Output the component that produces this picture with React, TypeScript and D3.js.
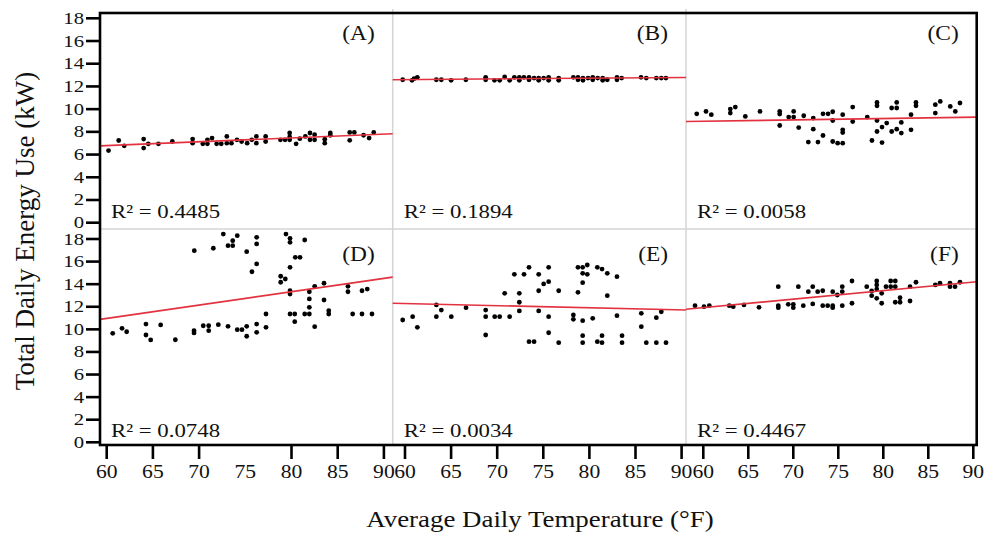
import * as d3 from 'd3'

// six panels: (A)(B)(C) top row, (D)(E)(F) bottom row
const panelNames = ['(A)', '(B)', '(C)', '(D)', '(E)', '(F)']
const r2Labels = ['R² = 0.4485', 'R² = 0.1894', 'R² = 0.0058', 'R² = 0.0748', 'R² = 0.0034', 'R² = 0.4467']
const xTicks = [60, 65, 70, 75, 80, 85, 90]
const yTicks = [0, 2, 4, 6, 8, 10, 12, 14, 16, 18]
// regression line read at 60 °F and 90 °F
const fitAt60 = [6.79, 12.6, 8.93, 10.97, 12.29, 11.92]
const fitAt90 = [7.8, 12.79, 9.29, 14.51, 11.72, 14.19]

// [temperature °F, energy kW]
const panelA: [number, number][] = [
  [60.2, 6.35], [61.3, 7.24], [61.9, 6.77], [64.0, 7.36], [64.0, 6.57], [64.5, 6.95], [65.6, 6.95], [67.1, 7.15],
  [69.3, 7.36], [69.3, 7.0], [70.4, 6.95], [70.9, 6.95], [70.9, 7.3], [71.4, 7.45], [71.9, 6.95], [72.4, 6.95],
  [73.0, 7.6], [73.0, 7.0], [73.5, 7.0], [74.1, 7.3], [74.6, 7.15], [75.2, 7.0], [75.7, 7.3], [76.2, 7.6],
  [76.2, 7.0], [77.2, 7.6], [77.2, 7.15], [78.8, 7.3], [79.3, 7.3], [79.8, 7.9], [79.8, 7.55], [79.8, 7.3],
  [80.5, 6.95], [80.9, 7.4], [81.5, 7.6], [82.0, 7.9], [82.0, 7.3], [82.5, 7.3], [82.5, 7.75], [83.6, 7.0],
  [83.6, 7.35], [84.2, 7.9], [84.2, 7.7], [86.3, 7.95], [86.3, 7.25], [86.8, 7.95], [87.8, 7.7], [88.4, 7.45],
  [88.9, 7.95],
]
const panelB: [number, number][] = [
  [59.75, 12.59], [60.76, 12.54], [60.98, 12.68], [61.34, 12.8], [63.4, 12.59], [63.94, 12.59], [65.0, 12.54],
  [66.6, 12.59], [68.75, 12.8], [68.75, 12.59], [69.7, 12.54], [70.27, 12.54], [70.81, 12.83], [71.35, 12.54],
  [71.86, 12.8], [72.4, 12.8], [72.4, 12.54], [72.9, 12.8], [73.45, 12.8], [73.45, 12.59], [74.0, 12.74],
  [74.5, 12.74], [74.5, 12.54], [75.04, 12.74], [75.58, 12.8], [75.58, 12.54], [76.67, 12.74], [76.67, 12.54],
  [78.26, 12.8], [78.76, 12.8], [78.76, 12.59], [79.3, 12.74], [79.3, 12.54], [79.85, 12.74], [80.36, 12.8],
  [80.36, 12.59], [80.9, 12.74], [81.44, 12.74], [81.44, 12.54], [81.94, 12.59], [82.99, 12.8], [82.99, 12.59],
  [83.5, 12.74], [85.6, 12.8], [86.17, 12.74], [87.26, 12.74], [87.8, 12.74], [88.3, 12.74],
]
const panelC: [number, number][] = [
  [59.27, 9.59], [60.3, 9.8], [60.89, 9.51], [63.0, 10.01], [63.0, 9.65], [63.56, 10.18], [64.67, 9.36], [66.3, 9.8],
  [68.49, 9.8], [68.49, 9.57], [68.49, 8.56], [69.49, 9.3], [70.04, 9.3], [70.04, 9.8], [70.6, 8.38], [71.16, 9.42],
  [72.22, 9.21], [72.22, 8.24], [71.67, 7.1], [72.74, 7.1], [73.3, 7.68], [73.3, 9.59], [73.86, 9.59], [74.38, 9.77],
  [74.38, 9.0], [74.38, 7.15], [74.93, 7.0], [75.49, 7.0], [75.49, 8.18], [75.49, 7.94], [75.49, 9.51], [76.6, 10.18],
  [76.6, 8.91], [78.22, 9.3], [78.74, 7.24], [79.3, 10.59], [79.3, 10.3], [79.3, 9.0], [79.3, 8.03], [79.86, 8.42],
  [79.86, 7.06], [80.38, 8.77], [80.93, 10.1], [81.49, 10.59], [81.49, 10.1], [80.93, 8.03], [81.49, 8.24],
  [82.0, 8.83], [82.0, 7.89], [83.08, 9.51], [83.08, 8.18], [83.63, 10.59], [83.63, 10.3], [85.78, 10.39],
  [85.78, 9.65], [86.33, 10.68], [87.44, 10.24], [88.0, 9.8], [88.52, 10.54],
]
const panelD: [number, number][] = [
  [60.65, 9.65], [61.66, 10.09], [62.16, 9.79], [64.25, 10.47], [64.25, 9.5], [64.76, 9.06], [65.84, 10.39],
  [67.43, 9.08], [69.45, 9.88], [69.45, 9.68], [69.48, 16.97], [70.45, 10.32], [71.04, 10.32], [71.04, 9.88],
  [71.54, 17.18], [72.08, 10.41], [72.62, 18.44], [73.13, 17.41], [73.64, 17.41], [73.64, 17.85], [74.13, 18.29],
  [73.13, 10.27], [74.13, 9.97], [74.64, 9.97], [75.15, 10.27], [75.15, 9.39], [75.15, 16.88], [75.72, 15.1],
  [76.23, 15.79], [76.23, 18.15], [76.23, 17.56], [76.23, 10.47], [76.23, 9.74], [77.24, 11.36], [77.24, 10.18],
  [79.4, 18.44], [79.84, 18.06], [79.84, 17.71], [78.83, 14.7], [78.83, 14.17], [79.33, 14.46], [79.84, 15.49],
  [80.41, 16.38], [80.92, 16.38], [81.43, 17.91], [79.84, 13.42], [79.84, 13.13], [79.84, 11.36], [80.35, 11.36],
  [80.35, 10.68], [81.43, 11.36], [81.93, 13.33], [81.93, 12.69], [81.93, 11.95], [81.93, 11.36], [82.51, 13.81],
  [82.51, 10.24], [83.52, 14.08], [83.52, 12.6], [84.03, 11.65], [84.03, 11.36], [86.11, 13.81], [86.11, 13.33],
  [86.62, 11.36], [87.63, 13.42], [87.63, 11.36], [88.2, 13.57], [88.71, 11.36],
]
const panelE: [number, number][] = [
  [59.75, 10.83], [60.83, 11.12], [61.34, 10.18], [63.4, 12.16], [63.4, 11.12], [63.94, 11.71], [65.02, 11.12],
  [66.62, 11.92], [68.75, 11.71], [68.75, 11.12], [68.75, 9.5], [69.73, 11.12], [70.27, 11.12], [70.81, 13.19],
  [71.35, 11.12], [71.86, 14.87], [72.4, 13.19], [72.4, 12.4], [72.4, 11.63], [72.91, 14.87], [73.45, 15.49],
  [73.45, 8.91], [74.0, 8.91], [74.5, 14.87], [74.5, 13.42], [74.5, 11.63], [75.04, 14.02], [75.58, 15.49],
  [75.58, 14.22], [75.58, 11.12], [75.58, 9.7], [76.67, 13.42], [76.67, 8.82], [78.26, 11.27], [78.26, 10.89],
  [78.76, 15.49], [78.76, 13.28], [79.27, 15.49], [79.27, 14.96], [79.27, 14.13], [79.27, 10.77], [79.27, 9.44],
  [79.27, 8.82], [79.77, 15.7], [79.77, 14.87], [80.36, 10.98], [80.86, 15.49], [80.86, 8.91], [81.37, 15.34],
  [81.37, 9.44], [81.37, 8.82], [81.94, 14.96], [81.94, 12.98], [82.99, 14.66], [82.99, 11.21], [83.54, 9.44],
  [83.54, 8.82], [85.63, 11.42], [85.63, 10.24], [86.17, 8.82], [87.26, 11.03], [87.26, 8.82], [87.8, 11.56],
  [88.31, 8.82],
]
const panelF: [number, number][] = [
  [59.08, 12.1], [60.08, 12.01], [60.67, 12.1], [62.89, 12.1], [63.33, 12.01], [64.52, 12.16], [66.19, 11.95],
  [68.33, 13.78], [68.33, 12.1], [68.33, 11.92], [69.44, 12.22], [70.0, 12.22], [70.0, 11.92], [70.56, 13.78],
  [71.11, 12.1], [71.67, 13.34], [72.16, 13.78], [72.16, 12.25], [72.71, 13.34], [73.27, 13.42], [73.27, 12.1],
  [73.82, 12.1], [74.38, 13.34], [74.38, 12.1], [74.38, 11.92], [74.89, 13.04], [75.44, 13.78], [75.44, 13.34],
  [75.44, 12.1], [76.52, 14.28], [76.52, 12.31], [78.16, 13.78], [78.71, 13.4], [78.71, 12.98], [79.27, 14.28],
  [79.27, 13.93], [79.27, 13.57], [79.27, 12.75], [79.82, 13.19], [79.82, 12.31], [80.3, 13.78], [80.82, 14.28],
  [80.82, 13.78], [81.33, 14.28], [81.33, 13.78], [81.86, 12.8], [81.33, 12.4], [81.86, 12.4], [82.97, 13.78],
  [82.97, 12.51], [83.63, 14.17], [85.78, 13.93], [86.3, 14.08], [87.41, 14.08], [87.41, 13.78], [87.97, 13.78],
  [88.52, 14.17],
]
const panels = [panelA, panelB, panelC, panelD, panelE, panelF]

const W = 984
const H = 533
const colEdges = [100, 392.7, 686, 976.7]
const rowEdges = [13, 229, 445]
const col60 = [106.7, 405, 703.3]
const col90 = [383.9, 681.6, 973.3]
const row0 = [222.7, 442.3]
const row18 = [18.3, 239]
const FONT = "'Liberation Serif', 'Times New Roman', serif"
const RED = '#e2323f'

function SText({ x, y, size, anchor = 'start', sx = 1.17, children }: any) {
  return (
    <text transform={`translate(${x},${y}) scale(${sx},1)`} fontSize={size} textAnchor={anchor}
      fontFamily={FONT} fill="#111">{children}</text>
  )
}

export default function App() {
  const xScales = [0, 1, 2].map(c => d3.scaleLinear().domain([60, 90]).range([col60[c], col90[c]]))
  const yScales = [0, 1].map(r => d3.scaleLinear().domain([0, 18]).range([row0[r], row18[r]]))
  const line = d3.line<[number, number]>()

  return (
    <svg width={W} height={H} style={{ position: 'absolute', left: 0, top: 0, background: '#fff' }}>
      {/* light inner dividers */}
      <g stroke="#d4d4d4" strokeWidth={1.5}>
        <line x1={colEdges[1]} x2={colEdges[1]} y1={rowEdges[0] - 4} y2={rowEdges[2]} />
        <line x1={colEdges[2]} x2={colEdges[2]} y1={rowEdges[0] - 4} y2={rowEdges[2]} />
        <line x1={colEdges[0]} x2={colEdges[3]} y1={rowEdges[1]} y2={rowEdges[1]} />
      </g>

      {panels.map((pts, i) => {
        const c = i % 3
        const r = Math.floor(i / 3)
        const x = xScales[c]
        const y = yScales[r]
        const left = colEdges[c]
        const right = colEdges[c + 1]
        const t0 = x.invert(left)
        const t1 = x.invert(right)
        const fit = (t: number) => fitAt60[i] + (t - 60) * (fitAt90[i] - fitAt60[i]) / 30
        const fitPath = line([[x(t0), y(fit(t0))], [x(t1), y(fit(t1))]])
        return (
          <g key={i}>
            {pts.map((d, j) => <circle key={j} cx={x(d[0])} cy={y(d[1])} r={2.4} fill="#000" />)}
            <path d={fitPath || ''} fill="none" stroke={RED} strokeWidth={1.6} />
            <SText x={right - 18} y={y(18) + 22} size={20} anchor="end">{panelNames[i]}</SText>
            <SText x={left + 11} y={y(0) - 5} size={19.5}>{r2Labels[i]}</SText>
          </g>
        )
      })}

      {/* outer frame */}
      <rect x={colEdges[0]} y={rowEdges[0]} width={colEdges[3] - colEdges[0]} height={rowEdges[2] - rowEdges[0]}
        fill="none" stroke="#000" strokeWidth={2.6} />

      {/* y axes, one per row */}
      {yScales.map((y, r) => (
        <g key={r}>
          {yTicks.map(t => (
            <g key={t}>
              <line x1={86} x2={colEdges[0]} y1={y(t)} y2={y(t)} stroke="#000" strokeWidth={2.6} />
              <SText x={84} y={y(t) + 5.5} size={17} anchor="end" sx={1.22}>{t}</SText>
            </g>
          ))}
        </g>
      ))}

      {/* x axes, one per column (the 75 tick mark is absent under the first column) */}
      {xScales.map((x, c) => (
        <g key={c}>
          {xTicks.map(t => (
            <g key={t}>
              {!(c === 0 && t === 75) && (
                <line x1={x(t)} x2={x(t)} y1={rowEdges[2]} y2={459} stroke="#000" strokeWidth={2.6} />
              )}
              <SText x={x(t)} y={478} size={18.5} anchor="middle">{t}</SText>
            </g>
          ))}
        </g>
      ))}

      <text transform="translate(34,231) rotate(-90)" fontSize={27} textAnchor="middle" fontFamily={FONT}
        fill="#111">Total Daily Energy Use (kW)</text>
      <SText x={540} y={527} size={24} anchor="middle" sx={1.12}>Average Daily Temperature (°F)</SText>
    </svg>
  )
}
